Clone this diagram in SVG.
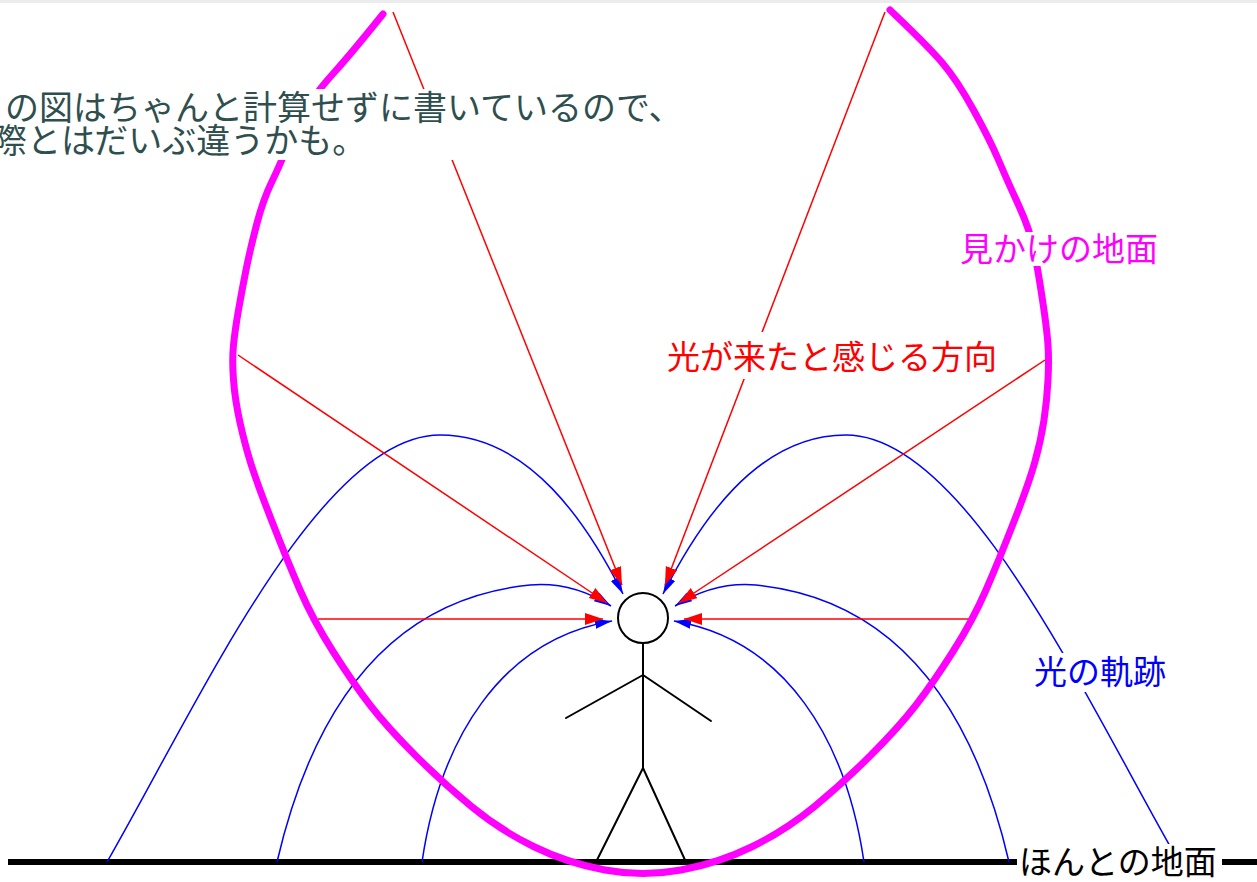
<svg xmlns="http://www.w3.org/2000/svg" width="1257" height="882" viewBox="0 0 1257 882">
  <style>
    .txt { font-family: "Noto Sans CJK JP", "Noto Sans CJK SC", sans-serif; font-size: 33px; }
    .note { fill: #2f4f4f; font-size: 34px; }
    .ray { fill: none; stroke: #ff0000; stroke-width: 1.5; }
    .path { fill: none; stroke: #0000ff; stroke-width: 1.5; }
    .fig { fill: none; stroke: #000000; stroke-width: 2; stroke-linecap: round; stroke-linejoin: round; }
    .bg { fill: #ffffff; }
  </style>
  <defs>
    <marker id="arrowRed" markerUnits="userSpaceOnUse" markerWidth="19" markerHeight="13" refX="18" refY="6" orient="auto">
      <path d="M0,0 L18,6 L0,12 z" fill="#ff0000"/>
    </marker>
    <marker id="arrowBlue" markerUnits="userSpaceOnUse" markerWidth="18" markerHeight="11" refX="17" refY="5" orient="auto">
      <path d="M0,0 L17,5 L0,10 z" fill="#0000ff"/>
    </marker>
  </defs>

  <rect width="1257" height="882" fill="#ffffff"/>
  <rect x="0" y="0" width="1257" height="3" fill="#ececec"/>

  <!-- real ground -->
  <g id="ground">
    <line x1="8" y1="862" x2="1257" y2="862" stroke="#000000" stroke-width="6"/>
  </g>

  <g id="connectors">
    <!-- light trajectories (left side, mirrored for the right) -->
    <g id="trajectories-left">
      <path class="path" d="M107,862 C200,700 320,435 440,435 C530,435 588,525 623,594" marker-end="url(#arrowBlue)"/>
      <path class="path" d="M277,862 C310,720 380,600 530,585 C565,582 592,594 611,606" marker-end="url(#arrowBlue)"/>
      <path class="path" d="M422,862 C440,740 500,640 612,621" marker-end="url(#arrowBlue)"/>
    </g>
    <g id="trajectories-right" transform="translate(1286,0) scale(-1,1)">
      <path class="path" d="M107,862 C200,700 320,435 440,435 C530,435 588,525 623,594" marker-end="url(#arrowBlue)"/>
      <path class="path" d="M277,862 C310,720 380,600 530,585 C565,582 592,594 611,606" marker-end="url(#arrowBlue)"/>
      <path class="path" d="M422,862 C440,740 500,640 612,621" marker-end="url(#arrowBlue)"/>
    </g>
    <!-- perceived directions -->
    <g id="rays">
      <line class="ray" x1="393" y1="12" x2="622" y2="585" marker-end="url(#arrowRed)"/>
      <line class="ray" x1="238" y1="355" x2="607" y2="603" marker-end="url(#arrowRed)"/>
      <line class="ray" x1="318" y1="619" x2="603" y2="619" marker-end="url(#arrowRed)"/>
      <line class="ray" x1="885" y1="12" x2="665" y2="585" marker-end="url(#arrowRed)"/>
      <line class="ray" x1="1045" y1="360" x2="679" y2="603" marker-end="url(#arrowRed)"/>
      <line class="ray" x1="972" y1="619" x2="684" y2="619" marker-end="url(#arrowRed)"/>
    </g>
  </g>

  <!-- observer -->
  <g id="person">
    <circle cx="643" cy="618" r="25" fill="#ffffff" stroke="#000000" stroke-width="2"/>
    <polyline class="fig" points="643,643 643,768"/>
    <polyline class="fig" points="566,718 643,675 711,721"/>
    <polyline class="fig" points="597,860 643,768 685,860"/>
  </g>

  <!-- apparent ground -->
  <g id="apparent-ground">
    <path fill="none" stroke="#ff00ff" stroke-width="7" stroke-linecap="round" stroke-linejoin="round"
      d="M383,14 Q350,55 335,71.5 Q320,88 309,104 Q298,120 289,142.5 Q280,165 271.5,182.5 Q263,200 256.5,225
         Q250,250 246,270 Q242,290 238.5,310 Q235,330 233.5,345 Q232,360 233.5,380 Q235,400 240,422.5
         Q245,445 251,464 Q257,483 272,521.5 Q287,560 300,590 Q313,620 333,651.5 Q353,683 370,705
         Q387,727 415,755 Q443,783 471.5,806.5 Q500,830 533.5,846.5 Q567,863 605,870 Q643,877 681,870
         Q719,863 752.5,846.5 Q786,830 814.5,806.5 Q843,783 871,755 Q899,727 916,705 Q933,683 953,651.5
         Q973,620 986,590 Q999,560 1014,521.5 Q1029,483 1035,461.5 Q1041,440 1044,420 Q1047,400 1048,380
         Q1049,360 1048,345 Q1047,330 1042.5,300 Q1038,270 1034,250 Q1030,230 1018.5,205 Q1007,180 998.5,160
         Q990,140 973.5,110 Q957,80 942,62.5 Q927,45 890,10"/>
  </g>

  <!-- labels -->
  <g id="note">
    <rect class="bg" x="0" y="89" width="680" height="71"/>
    <text class="txt note" x="-29" y="120">この図はちゃんと計算せずに書いているので、</text>
    <text class="txt note" x="-41" y="153">実際とはだいぶ違うかも。</text>
  </g>
  <g id="label-apparent-ground">
    <rect class="bg" x="958" y="232" width="204" height="34"/>
    <text class="txt" x="960" y="261" fill="#ff00ff">見かけの地面</text>
  </g>
  <g id="label-direction">
    <rect class="bg" x="666" y="332" width="340" height="47"/>
    <text class="txt" x="667" y="369" fill="#ff0000">光が来たと感じる方向</text>
  </g>
  <g id="label-trajectory">
    <rect class="bg" x="1033" y="653" width="139" height="39"/>
    <text class="txt" x="1034" y="684" fill="#0000ff">光の軌跡</text>
  </g>
  <g id="label-real-ground">
    <rect class="bg" x="1017" y="844" width="205" height="38"/>
    <text class="txt" x="1019" y="874" fill="#000000">ほんとの地面</text>
  </g>
</svg>
